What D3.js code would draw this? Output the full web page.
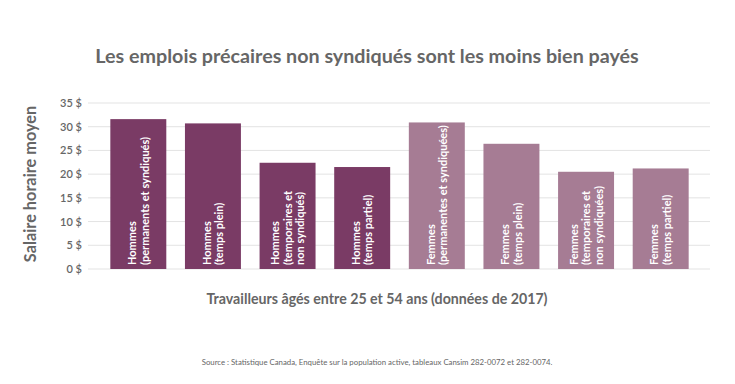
<!DOCTYPE html>
<html>
<head>
<meta charset="utf-8">
<script src="https://cdn.jsdelivr.net/npm/d3@7"></script>
<style>
  body { margin: 0; background: #fff; }
  text { font-family: Lato, "Open Sans", sans-serif; }
</style>
</head>
<body>
<svg id="viz"></svg>
<script>
// ----------------------- DATA
const categories = ['h1', 'h2', 'h3', 'h4', 'f1', 'f2', 'f3', 'f4'];
const barLabels = [
  ['Hommes', '(permanents et syndiqués)'],
  ['Hommes', '(temps plein)'],
  ['Hommes', '(temporaires et', 'non syndiqués)'],
  ['Hommes', '(temps partiel)'],
  ['Femmes', '(permanentes et syndiquées)'],
  ['Femmes', '(temps plein)'],
  ['Femmes', '(temporaires et', 'non syndiquées)'],
  ['Femmes', '(temps partiel)']
];
const groups = ['H', 'H', 'H', 'H', 'F', 'F', 'F', 'F'];
const wages = [31.6, 30.7, 22.4, 21.5, 30.9, 26.4, 20.5, 21.2];
const yTicks = [0, 5, 10, 15, 20, 25, 30, 35];

// ----------------------- SETTINGS
const width = 735, height = 384;
const colors = { H: '#7a3b65', F: '#a67c94' };
const grey = '#666666';

const svg = d3.select('#viz')
  .attr('width', width)
  .attr('height', height);

// ----------------------- SCALES
const x = d3.scaleBand()
  .domain(categories)
  .range([101, 698])
  .paddingInner(0.25)
  .paddingOuter(0.125);

const y = d3.scaleLinear()
  .domain([0, 35])
  .range([269, 103]);

// ----------------------- GRID + Y AXIS
svg.append('g')
  .attr('class', 'grid')
  .selectAll('line')
  .data(yTicks)
  .enter().append('line')
  .attr('x1', 88)
  .attr('x2', 710)
  .attr('y1', d => y(d))
  .attr('y2', d => y(d))
  .attr('stroke', '#e3e3e3')
  .attr('stroke-width', 1);

const yAxis = d3.axisLeft(y)
  .tickValues(yTicks)
  .tickSize(0)
  .tickPadding(0)
  .tickFormat(d => d + ' $');

svg.append('g')
  .attr('transform', 'translate(82, 0)')
  .call(yAxis)
  .call(g => g.select('.domain').remove())
  .call(g => g.selectAll('text')
    .attr('fill', grey)
    .style('font-size', '11px')
    .style('font-weight', 600)
    .style('font-family', 'Lato, sans-serif'));

// y title
svg.append('text')
  .attr('transform', 'translate(36, 184) rotate(-90)')
  .attr('text-anchor', 'middle')
  .attr('fill', grey)
  .style('font-size', '16.3px')
  .style('font-weight', 700)
  .text('Salaire horaire moyen');

// ----------------------- BARS
svg.selectAll('.bar')
  .data(wages)
  .enter().append('rect')
  .attr('class', 'bar')
  .attr('x', (d, i) => x(categories[i]))
  .attr('y', d => y(d))
  .attr('width', x.bandwidth())
  .attr('height', d => y(0) - y(d))
  .attr('fill', (d, i) => colors[groups[i]]);

// bar labels, rotated, reading bottom to top
const lineH = 12.5;
svg.selectAll('.bar-label')
  .data(barLabels)
  .enter().append('text')
  .attr('class', 'bar-label')
  .attr('transform', (d, i) => {
    const cx = x(categories[i]) + x.bandwidth() / 2;
    const bx = cx - (d.length - 1) * lineH / 2 + 4;
    return `translate(${bx}, 265) rotate(-90)`;
  })
  .attr('fill', '#fff')
  .style('font-size', '11px')
  .style('font-weight', 700)
  .each(function (d) {
    d3.select(this).selectAll('tspan')
      .data(d)
      .enter().append('tspan')
      .attr('x', 0)
      .attr('dy', (t, j) => j === 0 ? 0 : lineH)
      .text(t => t);
  });

// ----------------------- TITLES
svg.append('text')
  .attr('x', 367)
  .attr('y', 63)
  .attr('text-anchor', 'middle')
  .attr('fill', grey)
  .style('font-size', '19.7px')
  .style('font-weight', 700)
  .text('Les emplois précaires non syndiqués sont les moins bien payés');

svg.append('text')
  .attr('x', 377)
  .attr('y', 304)
  .attr('text-anchor', 'middle')
  .attr('fill', grey)
  .style('font-size', '14.2px')
  .style('font-weight', 700)
  .text('Travailleurs âgés entre 25 et 54 ans (données de 2017)');

svg.append('text')
  .attr('x', 377)
  .attr('y', 365)
  .attr('text-anchor', 'middle')
  .attr('fill', grey)
  .style('font-size', '7.8px')
  .text('Source : Statistique Canada, Enquête sur la population active, tableaux Cansim 282-0072 et 282-0074.');
</script>
</body>
</html>
